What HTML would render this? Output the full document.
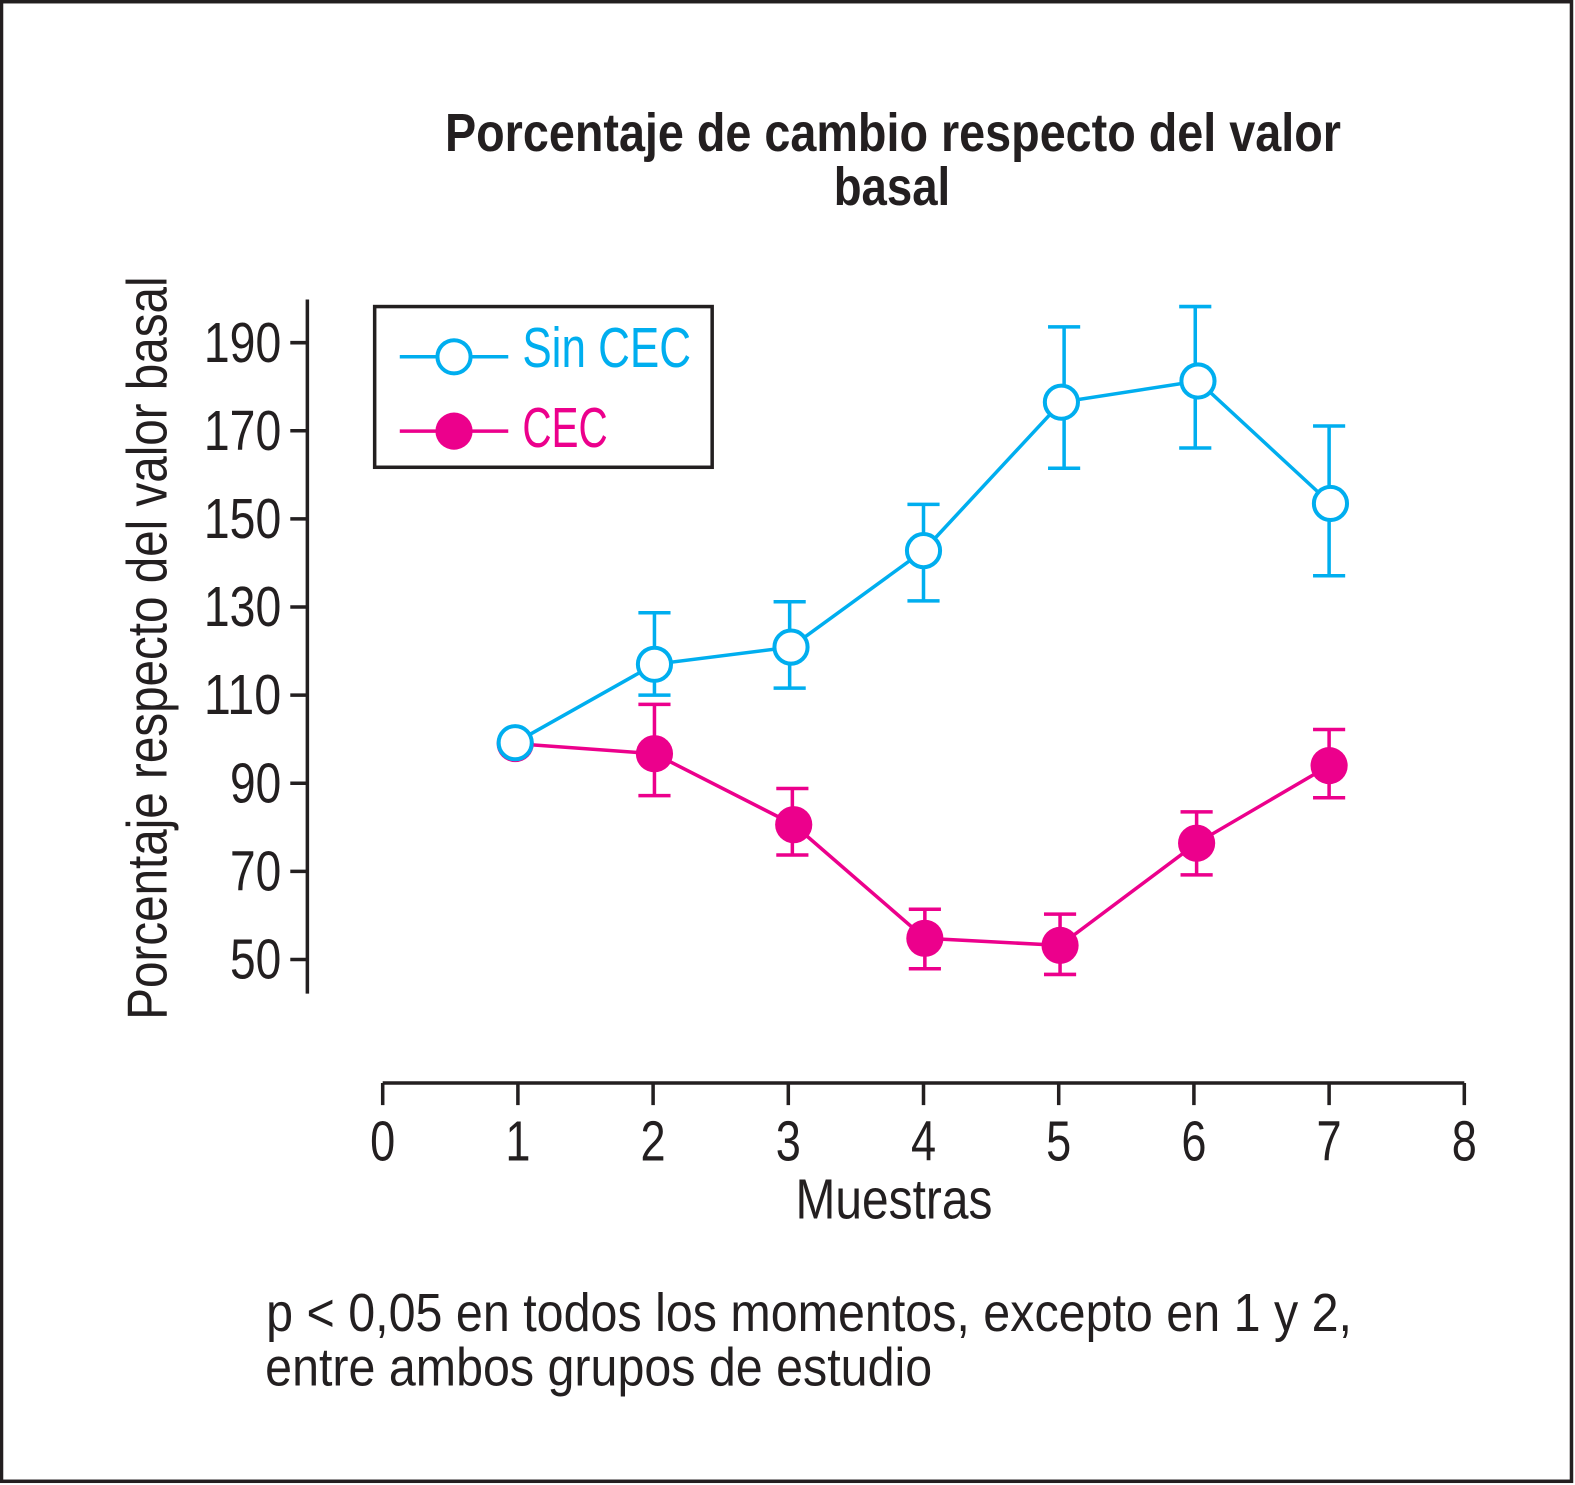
<!DOCTYPE html>
<html lang="es">
<head>
<meta charset="utf-8">
<title>Porcentaje de cambio respecto del valor basal</title>
<style>
html,body{margin:0;padding:0;background:#fff;width:1575px;height:1485px;overflow:hidden}
svg{display:block}
text{font-family:"Liberation Sans",sans-serif;fill:#231f20;font-size:56px}
.bold{font-weight:bold;font-size:54px}
</style>
</head>
<body>
<svg id="chart" xmlns="http://www.w3.org/2000/svg" width="1575" height="1485" viewBox="0 0 1568 1478">
  <rect x="1.5" y="1.5" width="1563" height="1473" fill="#fff" stroke="#231f20" stroke-width="3.5"/>
  <text class="bold" x="443" y="150" textLength="892" lengthAdjust="spacingAndGlyphs">Porcentaje de cambio respecto del valor</text>
  <text class="bold" x="830" y="204" textLength="116" lengthAdjust="spacingAndGlyphs">basal</text>
  <text transform="translate(166 1015) rotate(-90)" x="0" y="0" textLength="740" lengthAdjust="spacingAndGlyphs" style="font-size:56px">Porcentaje respecto del valor basal</text>
  <text x="792" y="1213" textLength="196" lengthAdjust="spacingAndGlyphs">Muestras</text>
  <text x="265" y="1325" textLength="1081" lengthAdjust="spacingAndGlyphs" style="font-size:54px">p &lt; 0,05 en todos los momentos, excepto en 1 y 2,</text>
  <text x="264" y="1379" textLength="664" lengthAdjust="spacingAndGlyphs" style="font-size:54px">entre ambos grupos de estudio</text>
  <g id="axes"></g>
  <g id="series"></g>
  <g>
    <rect x="373" y="305" width="336" height="160" fill="#fff" stroke="#231f20" stroke-width="3.5"/>
    <g>
      <line x1="398" y1="355" x2="506" y2="355" stroke="#00aeef" stroke-width="3.5"/>
      <circle cx="452" cy="355" r="16.5" fill="#fff" stroke="#00aeef" stroke-width="4"/>
      <text x="520" y="365" textLength="168" lengthAdjust="spacingAndGlyphs" style="fill:#00aeef">Sin CEC</text>
    </g>
    <g>
      <line x1="398" y1="429" x2="506" y2="429" stroke="#ec008c" stroke-width="3.5"/>
      <circle cx="452" cy="429" r="18.5" fill="#ec008c"/>
      <text x="520" y="445" textLength="85" lengthAdjust="spacingAndGlyphs" style="fill:#ec008c">CEC</text>
    </g>
  </g>
</svg>
<script>
// Axis tick labels
const xTicks = [0, 1, 2, 3, 4, 5, 6, 7, 8];
const yTicks = [50, 70, 90, 110, 130, 150, 170, 190];

// Sin CEC series (x = sample position, y = percent of baseline)
const sinSamples = [0.98, 2.01, 3.02, 4.0, 5.02, 6.03, 7.01];
const sinValues = [99.2, 117.0, 120.9, 142.8, 176.5, 181.3, 153.5];
const sinErrSamples = [null, 2.01, 3.01, 4.0, 5.04, 6.01, 7.0];
const sinUpper = [null, 128.7, 131.2, 153.3, 193.6, 198.2, 171.1];
const sinLower = [null, 110.0, 111.6, 131.4, 161.5, 166.1, 137.1];

// CEC series
const cecSamples = [0.98, 2.01, 3.04, 4.01, 5.01, 6.02, 7.0];
const cecValues = [99.0, 96.7, 80.6, 54.8, 53.2, 76.4, 94.0];
const cecErrSamples = [null, 2.01, 3.03, 4.01, 5.01, 6.02, 7.0];
const cecUpper = [null, 107.9, 88.8, 61.4, 60.3, 83.5, 102.2];
const cecLower = [null, 87.2, 73.7, 47.9, 46.6, 69.2, 86.7];

const NS = 'http://www.w3.org/2000/svg';
const INK = '#231f20', CYAN = '#00aeef', MAGENTA = '#ec008c';
function xScale(v) { return 381 + v * 134.6; }
function yScale(v) { return 955 - (v - 50) * 4.386; }
function make(parent, tag, attrs, txt) {
  const el = document.createElementNS(NS, tag);
  for (const k in attrs) el.setAttribute(k, attrs[k]);
  if (txt !== undefined) el.textContent = txt;
  parent.appendChild(el);
  return el;
}

const axes = document.getElementById('axes');
const series = document.getElementById('series');

const yAxisLine = make(axes, 'line', {x1: 306, x2: 306, y1: 298, y2: 989, stroke: INK, 'stroke-width': 3.5});


const xAxisLine = make(axes, 'line', {x1: xScale(xTicks[0]), x2: xScale(xTicks[xTicks.length - 1]), y1: 1078, y2: 1078, stroke: INK, 'stroke-width': 3.5});



yTicks.forEach(function (t) {
  const y = yScale(t);
  const tick = make(axes, 'line', {x1: 289, x2: 306, y1: y, y2: y, stroke: INK, 'stroke-width': 3.5});
  
  
  const s = String(t);
  const w = s.length === 3 ? 77 : 51;
  const label = make(axes, 'text', {x: 280 - w, y: y + 19, textLength: w, lengthAdjust: 'spacingAndGlyphs'}, s);
  
  
});

xTicks.forEach(function (t) {
  const x = xScale(t);
  const tick = make(axes, 'line', {x1: x, x2: x, y1: 1078, y2: 1100, stroke: INK, 'stroke-width': 3.5});
  
  
  const label = make(axes, 'text', {x: x - 12.5, y: 1155, textLength: 25, lengthAdjust: 'spacingAndGlyphs'}, String(t));
  
  
});

function drawSeries(name, color, filled, samples, values, errSamples, upper, lower) {
  const group = make(series, 'g', {});
  
  

  const pts = samples.map(function (s, i) { return xScale(s) + ',' + yScale(values[i]); }).join(' ');
  const line = make(group, 'polyline', {points: pts, fill: 'none', stroke: color, 'stroke-width': 3.5});
  
  

  samples.forEach(function (s, i) {
    if (upper[i] !== null) {
      const ex = xScale(errSamples[i]);
      const yu = yScale(upper[i]);
      const yl = yScale(lower[i]);
      const d = 'M' + ex + ' ' + yu + 'V' + yl +
        'M' + (ex - 16) + ' ' + yu + 'H' + (ex + 16) +
        'M' + (ex - 16) + ' ' + yl + 'H' + (ex + 16);
      const bar = make(group, 'path', {d: d, fill: 'none', stroke: color, 'stroke-width': 3.5});
      
      
    }
  });

  samples.forEach(function (s, i) {
    const attrs = filled
      ? {cx: xScale(s), cy: yScale(values[i]), r: 18.5, fill: color}
      : {cx: xScale(s), cy: yScale(values[i]), r: 16.5, fill: '#fff', stroke: color, 'stroke-width': 4};
    const pt = make(group, 'circle', attrs);
    
    
  });
}

drawSeries('cec', MAGENTA, true, cecSamples, cecValues, cecErrSamples, cecUpper, cecLower);
drawSeries('sin-cec', CYAN, false, sinSamples, sinValues, sinErrSamples, sinUpper, sinLower);
</script>
</body>
</html>
